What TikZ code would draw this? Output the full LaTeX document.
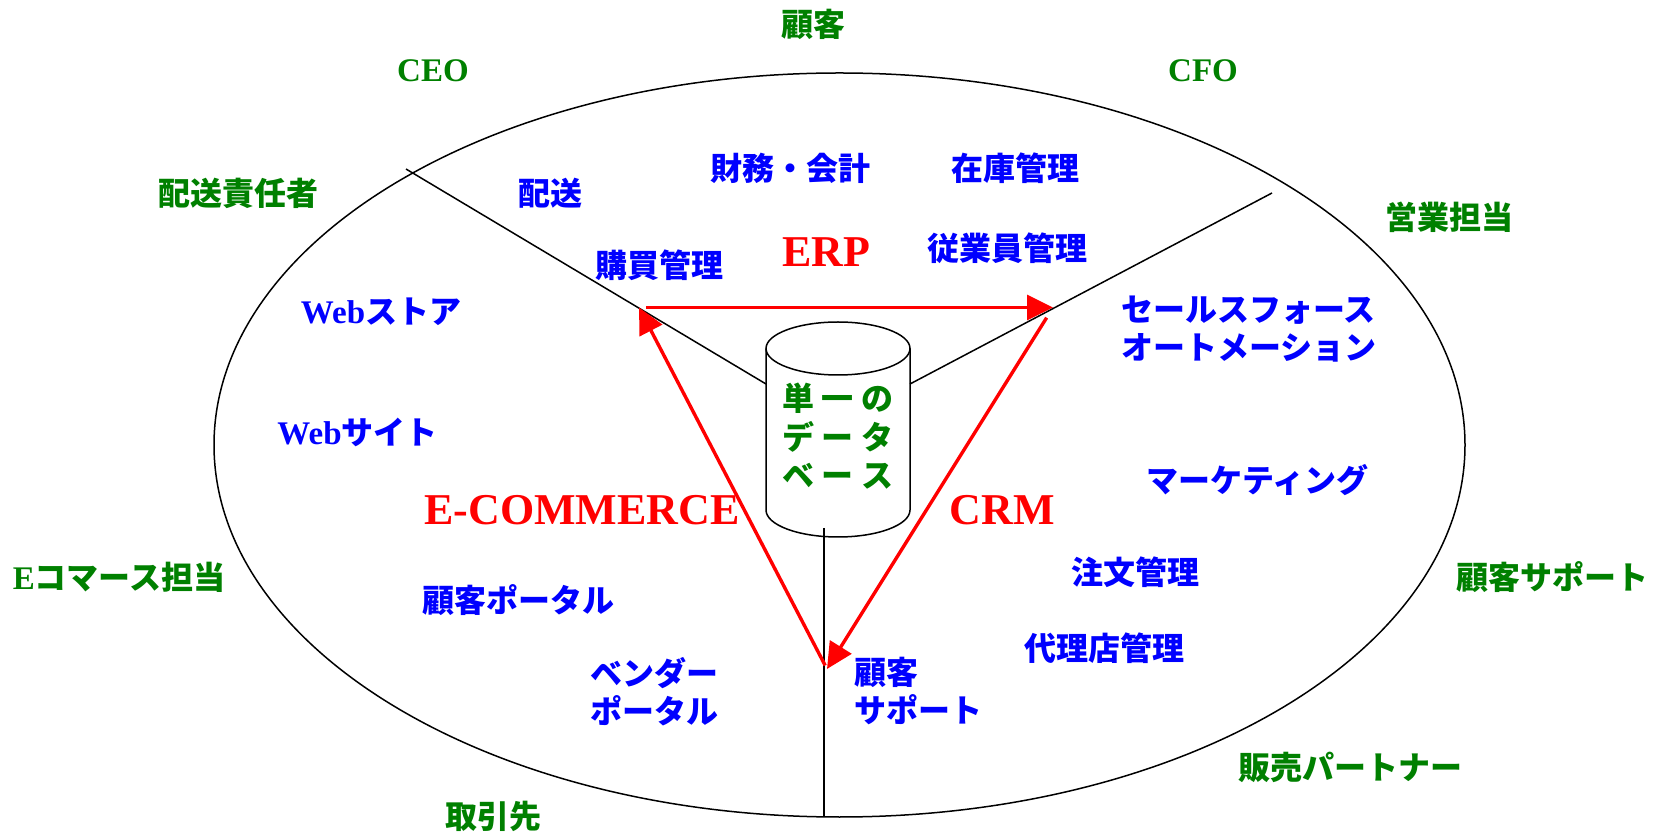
\documentclass[tikz,border=0pt]{standalone}
\usepackage{fontspec}
\setmainfont{Liberation Serif}
\newfontfamily\jp{Noto Sans CJK JP}
\usetikzlibrary{arrows.meta}
\definecolor{jgreen}{RGB}{0,128,0}
\definecolor{jblue}{RGB}{0,0,255}
\definecolor{jred}{RGB}{255,0,0}
\newcommand{\dbch}[1]{\makebox[20pt]{#1}}
\newcommand{\lat}[1]{{\rmfamily\bfseries\fontsize{16.5}{19}\selectfont #1}}
\begin{document}
\begin{tikzpicture}[x=0.5pt,y=-0.5pt,
  jtext/.style={font=\jp\bfseries\fontsize{16}{19}\selectfont, inner sep=0pt, align=left},
  grn/.style={jtext, text=jgreen},
  blu/.style={jtext, text=jblue},
  sys/.style={font=\rmfamily\bfseries\fontsize{22}{26}\selectfont, text=jred, inner sep=0pt},
  role/.style={font=\rmfamily\bfseries\fontsize{16.5}{19}\selectfont, text=jgreen, inner sep=0pt},
  edge/.style={black, line width=0.75pt},
  flow/.style={jred, line width=1.7pt, -{Triangle[length=13pt,width=12.5pt]}},
]
\useasboundingbox (0,0) rectangle (1655,833);

% outer ellipse
\draw[edge] (839.5,445) ellipse [x radius=312.75pt, y radius=186pt];

% cylinder (single database)
\draw[edge] (838,348.5) ellipse [x radius=36pt, y radius=13.25pt];
\draw[edge] (766,348.5) -- (766,510) arc[start angle=180, end angle=360, x radius=36pt, y radius=13.5pt] -- (910,348.5);
\node[grn, align=center, font=\jp\bfseries\fontsize{16}{19.25}\selectfont] (dbtext) at (838,436.5)
  {\dbch{単}\dbch{一}\dbch{の}\\\dbch{デ}\dbch{ー}\dbch{タ}\\\dbch{ベ}\dbch{ー}\dbch{ス}};

% dividers
\coordinate (dlA) at (406,169); \coordinate (dlB) at (766,384);
\coordinate (drA) at (1272,193); \coordinate (drB) at (910,384);
\coordinate (dvA) at (824,528); \coordinate (dvB) at (824,817);
\draw[edge] (dlA) -- (dlB);
\draw[edge] (drA) -- (drB);
\draw[edge] (dvA) -- (dvB);

% red cycle
\coordinate (vL) at (639,307.5);
\coordinate (vR) at (1053,307.5);
\coordinate (vB) at (827,669);
\draw[flow, shorten <=3.5pt] (vL) -- (vR);
\draw[flow, shorten <=6pt] (vR) -- (vB);
\draw[flow, shorten <=2pt] (vB) -- (vL);

% system labels
\node[sys] (erp) at (826,252) {ERP};
\node[sys] (ecom) at (582,510) {E-COMMERCE};
\node[sys] (crm) at (1002,510) {CRM};

% outer roles (green)
\node[grn] (cust) at (813,24) {顧客};
\node[role] (ceo) at (433,71) {CEO};
\node[role] (cfo) at (1203,71) {CFO};
\node[grn] (shipmgr) at (238,193) {配送責任者};
\node[grn] (sales) at (1449,217) {営業担当};
\node[grn] (ecmgr) at (119,577) {\lat{E}コマース担当};
\node[grn] (csup) at (1552,577) {顧客サポート};
\node[grn] (partner) at (493,816) {取引先};
\node[grn] (reseller) at (1350,767) {販売パートナー};

% inner functions (blue)
\node[blu] (fin) at (790,168) {財務・会計};
\node[blu] (inv) at (1015,168) {在庫管理};
\node[blu] (ship) at (550,193) {配送};
\node[blu] (purch) at (659,265) {購買管理};
\node[blu] (emp) at (1007,248) {従業員管理};
\node[blu] (webstore) at (381,312) {\lat{Web}ストア};
\node[blu, anchor=west] (sfa) at (1121,329) {セールスフォース\\オートメーション};
\node[blu] (website) at (357.5,432) {\lat{Web}サイト};
\node[blu] (mkt) at (1257.5,480) {マーケティング};
\node[blu] (order) at (1135,572) {注文管理};
\node[blu] (portal) at (518,600) {顧客ポータル};
\node[blu] (agent) at (1104,648) {代理店管理};
\node[blu, anchor=west] (vendor) at (590,691.5) {ベンダー\\ポータル};
\node[blu, anchor=west] (support) at (854,691.5) {顧客\\サポート};
\end{tikzpicture}
\end{document}
